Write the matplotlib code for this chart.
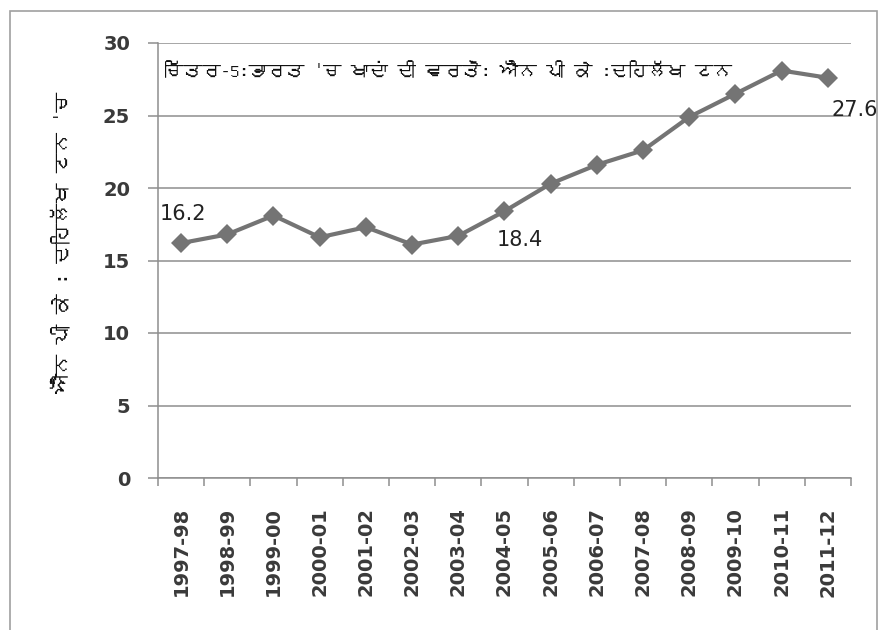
import matplotlib
matplotlib.use("Agg")
import matplotlib.pyplot as plt
from matplotlib import font_manager
from matplotlib.ft2font import FT2Font
from matplotlib.patches import Rectangle
import numpy as np

# data
years = ["1997-98", "1998-99", "1999-00", "2000-01", "2001-02", "2002-03",
         "2003-04", "2004-05", "2005-06", "2006-07", "2007-08", "2008-09",
         "2009-10", "2010-11", "2011-12"]
npk = [16.2, 16.8, 18.1, 16.6, 17.3, 16.1, 16.7, 18.4,
       20.3, 21.6, 22.6, 24.9, 26.5, 28.1, 27.6]
labelled = {"16.2": 0, "18.4": 7, "27.6": 14}
yticks = [0, 5, 10, 15, 20, 25, 30]

title = "ਚਿੱਤਰ-5:ਭਾਰਤ 'ਚ ਖਾਦਾਂ ਦੀ ਵਰਤੋਂ: ਐੱਨ ਪੀ ਕੇ :ਦਹਿਲੱਖ ਟਨ"
ylabel = "ਐੱਨ ਪੀ ਕੇ : ਦਹਿਲੱਖ ਟਨ 'ਚ"


def gurmukhi_family():
    # look for any installed font that covers Gurmukhi
    for f in font_manager.fontManager.ttflist:
        try:
            if 0x0A1A in FT2Font(f.fname).get_charmap():
                return [f.name, "DejaVu Sans"]
        except Exception:
            continue
    return ["DejaVu Sans"]


pa_font = gurmukhi_family()
grey_line = "#747474"
axis_grey = "#8e8e8e"

fig = plt.figure(figsize=(8.79, 6.3), dpi=100)
ax = fig.add_axes([158 / 879, 1 - 478 / 630, 693 / 879, 435 / 630])

x = np.arange(len(years))
ax.plot(x, npk, color=grey_line, lw=3, marker="D", markersize=10.5,
        markeredgewidth=0, zorder=3)

offsets = {0: (2, 29), 7: (15, -29), 14: (27, -32)}
for txt, i in labelled.items():
    ax.annotate(txt, (x[i], npk[i]), xytext=offsets[i], textcoords="offset pixels",
                ha="center", va="center", fontsize=15, color="#222222",
                family="DejaVu Sans")

ax.set_xlim(-0.5, len(years) - 0.5)
ax.set_ylim(0, 30)
ax.set_yticks(yticks)
ax.set_yticklabels([str(v) for v in yticks])
ax.set_xticks(x)
ax.set_xticklabels(years, rotation=90)
ax.set_xticks(np.arange(-0.5, len(years)), minor=True)

ax.tick_params(axis="x", which="major", length=0, pad=21, labelsize=14,
               labelcolor="#3a3a3a")
ax.tick_params(axis="x", which="minor", length=6, width=1.1, color=axis_grey,
               direction="out")
ax.tick_params(axis="y", length=7, width=1.1, color=axis_grey, pad=13,
               labelsize=14, labelcolor="#3a3a3a")
for lab in ax.get_xticklabels() + ax.get_yticklabels():
    lab.set_fontweight("bold")
    lab.set_family("DejaVu Sans")

ax.grid(axis="y", color=axis_grey, lw=1.1)
ax.set_axisbelow(True)
for side in ["top", "right"]:
    ax.spines[side].set_visible(False)
for side in ["left", "bottom"]:
    ax.spines[side].set_color(axis_grey)
    ax.spines[side].set_linewidth(1.1)

ax.text(0.01, 0.938, title, transform=ax.transAxes, ha="left", va="center",
        fontsize=13.4, family=pa_font, color="#111111")
ax.set_ylabel(ylabel, fontsize=14.5, family=pa_font, color="#111111")
ax.yaxis.set_label_coords(-0.127, 0.54)

# outer chart frame
fig.patches.append(Rectangle((10 / 879, -0.05), 867 / 879, 1.05 - 11 / 630,
                             transform=fig.transFigure, fill=False,
                             edgecolor="#a0a0a0", lw=1.2))

fig.savefig("out.png", dpi=100)
